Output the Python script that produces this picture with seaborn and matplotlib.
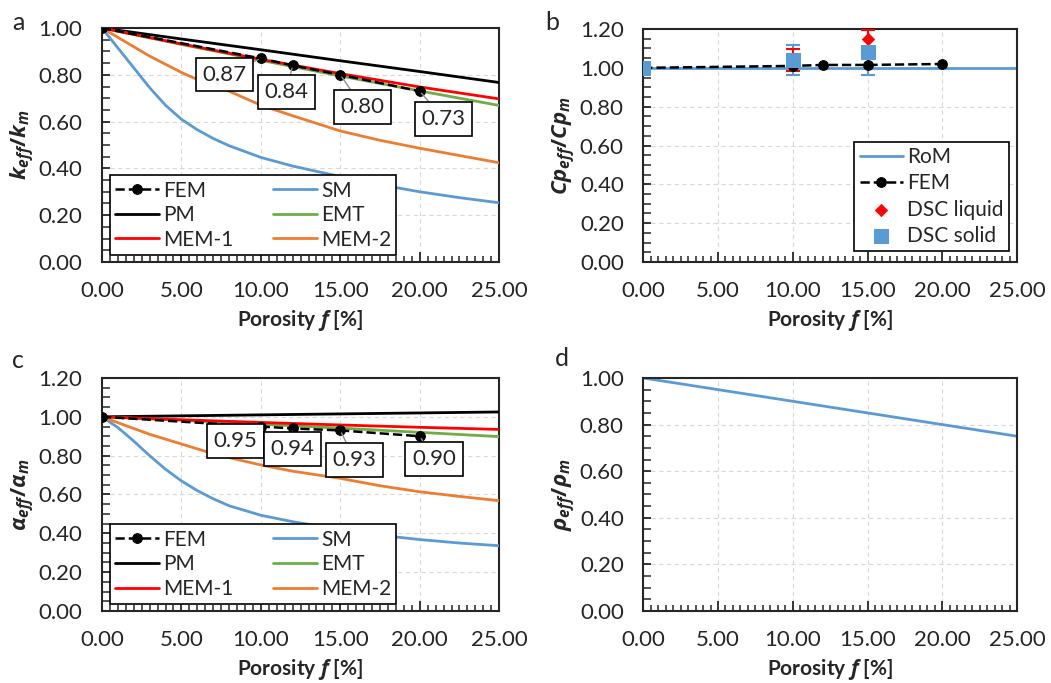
import numpy as np
import pandas as pd
import matplotlib
matplotlib.use("Agg")
import matplotlib.pyplot as plt
import seaborn as sns
from matplotlib.ticker import MultipleLocator, FormatStrFormatter

# ---------------- data ----------------
# panel a : thermal conductivity ratio
fem_f = [0, 10, 12, 15, 20]
k_fem = [1.00, 0.87, 0.84, 0.80, 0.73]

lin_f = [0, 5, 10, 15, 20, 25]
k_pm = [1.00, 0.953, 0.907, 0.860, 0.814, 0.767]
k_mem1 = [1.00, 0.932, 0.866, 0.805, 0.748, 0.697]
k_emt = [1.00, 0.930, 0.862, 0.795, 0.731, 0.669]

curve_f = [0, 1, 2, 3, 4, 5, 6, 7, 8, 10, 12, 15, 17.5, 20, 22.5, 25]
k_sm = [1.00, 0.915, 0.83, 0.745, 0.67, 0.61, 0.565, 0.528, 0.497, 0.447, 0.41,
        0.365, 0.33, 0.30, 0.275, 0.253]
k_mem2 = [1.00, 0.96, 0.92, 0.88, 0.845, 0.81, 0.78, 0.755, 0.73, 0.67, 0.625,
          0.56, 0.52, 0.486, 0.455, 0.424]

# panel b : specific heat ratio
rom_f = [0, 25]
cp_rom = [1.00, 1.00]
cp_fem = [1.00, 1.01, 1.015, 1.015, 1.02]
liq_f = [10, 15]
cp_liq = [1.04, 1.15]
cp_liq_err = [0.055, 0.045]
sol_f = [0, 10, 15]
cp_sol = [1.00, 1.04, 1.08]
cp_sol_err = [0.0, 0.078, 0.115]

# panel c : thermal diffusivity ratio
a_fem = [1.00, 0.95, 0.94, 0.93, 0.90]
a_pm = [1.00, 1.005, 1.010, 1.015, 1.020, 1.025]
a_mem1 = [1.00, 0.985, 0.971, 0.958, 0.946, 0.935]
a_emt = [1.00, 0.982, 0.962, 0.942, 0.920, 0.898]
a_sm = [1.00, 0.945, 0.875, 0.80, 0.73, 0.67, 0.62, 0.578, 0.542, 0.493, 0.46,
        0.42, 0.39, 0.368, 0.35, 0.336]
a_mem2 = [1.00, 0.97, 0.94, 0.91, 0.885, 0.86, 0.835, 0.81, 0.79, 0.752, 0.72,
          0.683, 0.645, 0.614, 0.59, 0.568]

# panel d : density ratio
rho_f = [0, 25]
rho_rom = [1.00, 0.75]

# annotation labels
k_labels = ["0.87", "0.84", "0.80", "0.73"]
a_labels = ["0.95", "0.94", "0.93", "0.90"]

# ---------------- style ----------------
sns.set_style("white")
plt.rcParams["font.family"] = ["Lato", "DejaVu Sans"]
plt.rcParams["mathtext.fontset"] = "custom"
plt.rcParams["mathtext.it"] = "Open Sans:italic:bold"
plt.rcParams["mathtext.rm"] = "Open Sans:bold"
plt.rcParams["mathtext.bf"] = "Open Sans:bold"

BLUE = "#5B9BD5"
ORANGE = "#ED7D31"
GREEN = "#70AD47"
RED = "#FF0000"
TICKFS = 16
TXT = "#262626"

fig = plt.figure(figsize=(10.51, 6.83), dpi=100)
ax_a = fig.add_axes([0.097, 0.6164, 0.378, 0.3426])
ax_b = fig.add_axes([0.612, 0.6164, 0.3557, 0.3411])
ax_c = fig.add_axes([0.097, 0.1054, 0.378, 0.3412])
ax_d = fig.add_axes([0.612, 0.1054, 0.3557, 0.3412])


def style_axes(ax, ymax, ylabel):
    ax.set_xlim(0, 25)
    ax.set_ylim(0, ymax)
    ax.xaxis.set_major_locator(MultipleLocator(5))
    ax.xaxis.set_minor_locator(MultipleLocator(0.5))
    ax.yaxis.set_major_locator(MultipleLocator(0.2))
    ax.yaxis.set_minor_locator(MultipleLocator(0.05))
    ax.xaxis.set_major_formatter(FormatStrFormatter("%.2f"))
    ax.yaxis.set_major_formatter(FormatStrFormatter("%.2f"))
    ax.tick_params(axis="both", which="both", direction="in", top=False,
                   right=False, bottom=True, left=True, labelsize=TICKFS,
                   colors=TXT)
    ax.tick_params(axis="x", which="major", length=7, width=1.3, pad=14)
    ax.tick_params(axis="x", which="minor", length=4, width=1.1)
    ax.tick_params(axis="y", which="major", length=6, width=1.3, pad=14)
    ax.tick_params(axis="y", which="minor", length=6, width=1.1)
    ax.grid(True, which="major", color="#d9d9d9", linestyle=(0, (4, 3)), lw=0.8)
    for s in ax.spines.values():
        s.set_visible(True)
        s.set_color(TXT)
        s.set_linewidth(1.5)
    ax.set_xlabel("Porosity $f$ [%]", fontsize=15, fontweight="bold",
                  labelpad=5, color=TXT)
    ax.set_ylabel(ylabel, fontsize=16, labelpad=1, color=TXT)


def model_panel(ax, fem, pm, mem1, emt, sm, mem2, labels, label_pos):
    h_pm = sns.lineplot(x=lin_f, y=pm, ax=ax, color="black", lw=2, label="PM",
                        zorder=3).lines[-1]
    h_sm = sns.lineplot(x=curve_f, y=sm, ax=ax, color=BLUE, lw=2, label="SM",
                        zorder=3).lines[-1]
    h_m2 = sns.lineplot(x=curve_f, y=mem2, ax=ax, color=ORANGE, lw=2,
                        label="MEM-2", zorder=3).lines[-1]
    h_emt = sns.lineplot(x=lin_f, y=emt, ax=ax, color=GREEN, lw=2, label="EMT",
                         zorder=3).lines[-1]
    h_fem = sns.lineplot(x=fem_f, y=fem, ax=ax, color="black", lw=1.8,
                         linestyle="--", marker="o", markersize=7,
                         markeredgecolor="black", label="FEM",
                         zorder=4).lines[-1]
    h_m1 = sns.lineplot(x=lin_f, y=mem1, ax=ax, color=RED, lw=2, label="MEM-1",
                        zorder=3.5).lines[-1]
    leg = ax.legend([h_fem, h_pm, h_m1, h_sm, h_emt, h_m2],
                    ["FEM", "PM", "MEM-1", "SM", "EMT", "MEM-2"], ncol=2,
                    loc="lower left", bbox_to_anchor=(0.02, 0.03), fontsize=15,
                    frameon=True, fancybox=False, edgecolor="black",
                    framealpha=1, handlelength=2.1, handletextpad=0.2,
                    columnspacing=1.9, labelspacing=0.22, borderpad=0.25,
                    borderaxespad=0)
    leg.get_frame().set_linewidth(1.2)
    for t in leg.get_texts():
        t.set_color(TXT)
    for txt, xf, yv, (tx, ty) in zip(labels, fem_f[1:], fem[1:], label_pos):
        ax.annotate(txt, xy=(xf, yv), xytext=(tx, ty), fontsize=16,
                    ha="center", va="center", zorder=6, color=TXT,
                    bbox=dict(boxstyle="square,pad=0.3", fc="white",
                              ec="black", lw=1.2),
                    arrowprops=dict(arrowstyle="-", color="#909090", lw=1,
                                    shrinkA=0, shrinkB=2))


# panel a
model_panel(ax_a, k_fem, k_pm, k_mem1, k_emt, k_sm, k_mem2, k_labels,
            [(7.7, 0.80), (11.6, 0.727), (16.4, 0.662), (21.5, 0.611)])
style_axes(ax_a, 1.0, r"$k_{eff}/k_m$")

# panel c
model_panel(ax_c, a_fem, a_pm, a_mem1, a_emt, a_sm, a_mem2, a_labels,
            [(8.4, 0.875), (12.0, 0.835), (15.9, 0.778), (20.9, 0.783)])
style_axes(ax_c, 1.2, r"$\alpha_{eff}/\alpha_m$")

# panel b
h_rom = sns.lineplot(x=rom_f, y=cp_rom, ax=ax_b, color=BLUE, lw=2,
                     label="RoM", zorder=2).lines[-1]
ax_b.errorbar(sol_f, cp_sol, yerr=cp_sol_err, fmt="none", ecolor=BLUE,
              elinewidth=1.5, capsize=5, capthick=1.5, zorder=3)
ax_b.errorbar(liq_f, cp_liq, yerr=cp_liq_err, fmt="none", ecolor=RED,
              elinewidth=1.5, capsize=5, capthick=1.5, zorder=3)
h_fem_b = sns.lineplot(x=fem_f, y=cp_fem, ax=ax_b, color="black", lw=1.8,
                       linestyle="--", marker="o", markersize=7,
                       markeredgecolor="black", label="FEM",
                       zorder=4).lines[-1]
sns.scatterplot(x=liq_f, y=cp_liq, ax=ax_b, color=RED, marker="D", s=40,
                edgecolor=RED, label="DSC liquid", zorder=5)
sns.scatterplot(x=sol_f, y=cp_sol, ax=ax_b, color=BLUE, marker="s", s=90,
                edgecolor=BLUE, label="DSC solid", zorder=6)
handles, labs = ax_b.get_legend_handles_labels()
order = [labs.index(n) for n in ["RoM", "FEM", "DSC liquid", "DSC solid"]]
leg = ax_b.legend([handles[i] for i in order], [labs[i] for i in order],
                  loc="lower right", bbox_to_anchor=(0.979, 0.047), fontsize=15,
                  frameon=True, fancybox=False, edgecolor="black",
                  framealpha=1, handlelength=2.1, handletextpad=0.2,
                  labelspacing=0.3, borderpad=0.25, borderaxespad=0)
leg.get_frame().set_linewidth(1.2)
for t in leg.get_texts():
    t.set_color(TXT)
style_axes(ax_b, 1.2, r"$Cp_{eff}/Cp_m$")

# panel d
sns.lineplot(x=rho_f, y=rho_rom, ax=ax_d, color=BLUE, lw=2, legend=False)
style_axes(ax_d, 1.0, r"$\rho_{eff}/\rho_m$")

# panel letters
for letter, (x, y) in zip("abcd", [(18, 23), (552, 22), (18, 360), (562, 358)]):
    fig.text(x / 1051, 1 - y / 683, letter, fontsize=18, ha="center",
             va="center", color=TXT)

fig.savefig("out.png", dpi=100)
